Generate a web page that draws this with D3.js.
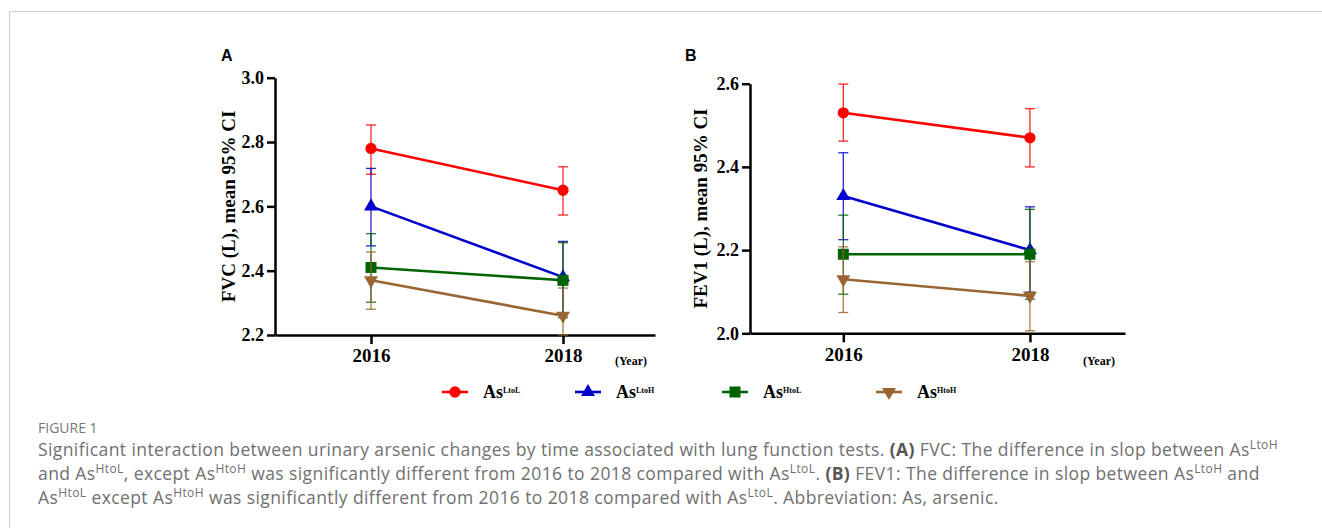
<!DOCTYPE html>
<html>
<head>
<meta charset="utf-8">
<script src="https://cdn.jsdelivr.net/npm/d3@7"></script>
<style>
  body { margin: 0; background: #fff; }
  svg { display: block; }
  .tick text { font-family: "Liberation Serif", serif; font-weight: bold; font-size: 18px; fill: #000; }
  .axis path, .axis line { stroke: #000; stroke-width: 2.5px; }
</style>
</head>
<body>
<svg id="fig" width="1322" height="528"></svg>
<script>
// data
const years = [2016, 2018];
const groups = ["LtoL", "LtoH", "HtoL", "HtoH"];
const colors = ["#ff0000", "#0000cc", "#006400", "#996633"];
const shapes = ["circle", "up", "square", "down"];

const fvcTicks = [2.2, 2.4, 2.6, 2.8, 3.0];
const fvcMean = [[2.78, 2.65], [2.60, 2.38], [2.41, 2.37], [2.37, 2.26]];
const fvcLow  = [[2.70, 2.573], [2.477, 2.267], [2.302, 2.254], [2.28, 2.20]];
const fvcHigh = [[2.853, 2.723], [2.718, 2.491], [2.515, 2.487], [2.458, 2.346]];

const fev1Ticks = [2.0, 2.2, 2.4, 2.6];
const fev1Mean = [[2.53, 2.47], [2.33, 2.20], [2.19, 2.19], [2.13, 2.09]];
const fev1Low  = [[2.462, 2.40], [2.225, 2.099], [2.094, 2.082], [2.05, 2.006]];
const fev1High = [[2.599, 2.54], [2.434, 2.304], [2.284, 2.298], [2.208, 2.172]];

const svg = d3.select("#fig");

// frame lines
svg.append("line").attr("x1", 9.5).attr("x2", 1322).attr("y1", 11.5).attr("y2", 11.5)
  .attr("stroke", "#cccccc").attr("stroke-width", 1);
svg.append("line").attr("x1", 9.5).attr("x2", 9.5).attr("y1", 11.5).attr("y2", 528)
  .attr("stroke", "#cccccc").attr("stroke-width", 1);

function symbolPath(shape) {
  if (shape === "circle") return d3.symbol(d3.symbolCircle, 100)();
  if (shape === "square") return d3.symbol(d3.symbolSquare, 121)();
  return d3.symbol(d3.symbolTriangle, 85)();
}

function panel(cfg) {
  const x = d3.scaleLinear().domain(cfg.xDomain).range([cfg.left, cfg.right]);
  const y = d3.scaleLinear().domain(cfg.yDomain).range([cfg.bottom, cfg.top]);
  const g = svg.append("g");

  // panel letter
  g.append("text")
    .attr("x", cfg.letterX).attr("y", 61)
    .attr("font-family", "Liberation Sans, Arial, sans-serif")
    .attr("font-weight", "bold").attr("font-size", "16px")
    .text(cfg.letter);

  // axes
  g.append("g")
    .attr("class", "axis")
    .attr("transform", `translate(${cfg.left},0)`)
    .call(d3.axisLeft(y).tickValues(cfg.ticks).tickFormat(d3.format(".1f")).tickSize(8).tickSizeOuter(0).tickPadding(3));

  g.append("g")
    .attr("class", "axis")
    .attr("transform", `translate(0,${cfg.bottom})`)
    .call(d3.axisBottom(x).tickValues(years).tickFormat(d3.format("d")).tickSize(9).tickSizeOuter(0).tickPadding(5))
    .selectAll(".tick text").style("font-size", "19px");

  // axis-label
  g.append("text")
    .attr("transform", `translate(${cfg.titleX},${(cfg.top + cfg.bottom) / 2}) rotate(-90)`)
    .attr("text-anchor", "middle")
    .attr("dy", "0.35em")
    .attr("font-family", "Liberation Serif, serif")
    .attr("font-weight", "bold").attr("font-size", "19px")
    .text(cfg.title);

  g.append("text")
    .attr("x", cfg.yearX).attr("y", 365)
    .attr("font-family", "Liberation Serif, serif")
    .attr("font-weight", "bold").attr("font-size", "12px")
    .text("(Year)");

  // series
  groups.forEach((grp, i) => {
    const s = g.append("g");
    const col = colors[i];
    years.forEach((yr, j) => {
      const cx = x(yr);
      s.append("line").attr("x1", cx).attr("x2", cx)
        .attr("y1", y(cfg.low[i][j])).attr("y2", y(cfg.high[i][j]))
        .attr("stroke", col).attr("stroke-width", 1.3).attr("stroke-opacity", 0.85);
      [cfg.low[i][j], cfg.high[i][j]].forEach(v => {
        s.append("line").attr("x1", cx - 5).attr("x2", cx + 5)
          .attr("y1", y(v)).attr("y2", y(v))
          .attr("stroke", col).attr("stroke-width", 1.3).attr("stroke-opacity", 0.85);
      });
    });
    s.append("path")
      .datum(years.map((yr, j) => [yr, cfg.mean[i][j]]))
      .attr("fill", "none").attr("stroke", col).attr("stroke-width", 2.6)
      .attr("d", d3.line().x(d => x(d[0])).y(d => y(d[1])));
    s.selectAll("path.mk")
      .data(years.map((yr, j) => [yr, cfg.mean[i][j]]))
      .join("path").attr("class", "mk")
      .attr("d", symbolPath(shapes[i]))
      .attr("fill", col)
      .attr("transform", d => `translate(${x(d[0])},${y(d[1])})` + (shapes[i] === "down" ? " rotate(180)" : ""));
  });
}

panel({
  letter: "A", letterX: 221, title: "FVC (L), mean 95% CI", titleX: 228, yearX: 615,
  left: 275, right: 655, top: 77.7, bottom: 335,
  xDomain: [2015, 2018 + (655 - 563) / 96], yDomain: [2.2, 3.0], ticks: fvcTicks,
  mean: fvcMean, low: fvcLow, high: fvcHigh
});

panel({
  letter: "B", letterX: 685, title: "FEV1 (L), mean 95% CI", titleX: 700, yearX: 1083,
  left: 750, right: 1125, top: 83.7, bottom: 333.3,
  xDomain: [2015, 2018 + (1125 - 1030) / 93.25], yDomain: [2.0, 2.6], ticks: fev1Ticks,
  mean: fev1Mean, low: fev1Low, high: fev1High
});

// legend
const legendX = [442, 575, 722, 876];
const legend = svg.append("g").attr("transform", "translate(0,392)");
groups.forEach((grp, i) => {
  const lg = legend.append("g").attr("transform", `translate(${legendX[i]},0)`);
  lg.append("line").attr("x1", 0).attr("x2", 26).attr("stroke", colors[i]).attr("stroke-width", 2.6);
  lg.append("path").attr("d", symbolPath(shapes[i])).attr("fill", colors[i])
    .attr("transform", "translate(13,0)" + (shapes[i] === "down" ? " rotate(180)" : ""));
  const t = lg.append("text").attr("x", 41).attr("y", 6)
    .attr("font-family", "Liberation Serif, serif").attr("font-weight", "bold").attr("font-size", "18px");
  t.append("tspan").text("As");
  t.append("tspan").attr("font-size", "8px").attr("dy", -5).text(grp);
});

// caption
const cap = svg.append("g").attr("font-family", "Open Sans, sans-serif").attr("fill", "#707070");
cap.append("text").attr("x", 38).attr("y", 433).attr("font-size", "14px").attr("fill", "#777").text("FIGURE 1");

const capLines = [
  [["t", "Significant interaction between urinary arsenic changes by time associated with lung function tests. "], ["b", "(A)"], ["t", " FVC: The difference in slop between As"], ["s", "LtoH"]],
  [["t", "and As"], ["s", "HtoL"], ["t", ", except As"], ["s", "HtoH"], ["t", " was significantly different from 2016 to 2018 compared with As"], ["s", "LtoL"], ["t", ". "], ["b", "(B)"], ["t", " FEV1: The difference in slop between As"], ["s", "LtoH"], ["t", " and"]],
  [["t", "As"], ["s", "HtoL"], ["t", " except As"], ["s", "HtoH"], ["t", " was significantly different from 2016 to 2018 compared with As"], ["s", "LtoL"], ["t", ". Abbreviation: As, arsenic."]]
];
const capBase = [456, 480, 504];
const capTexts = capLines.map((parts, li) => {
  const t = cap.append("text").attr("x", 38).attr("y", capBase[li]).attr("font-size", "17.5px");
  let raised = false;
  parts.forEach(([kind, str]) => {
    const sp = t.append("tspan").text(str);
    if (kind === "s") {
      sp.attr("font-size", "12px").attr("dy", raised ? 0 : -7);
      raised = true;
    } else {
      if (raised) { sp.attr("dy", 7); raised = false; }
      if (kind === "b") sp.attr("font-weight", "bold").attr("fill", "#555");
    }
  });
  return t;
});
// spread first line to the width seen in the figure, same spacing on all lines
const first = capTexts[0].node();
const nChars = first.textContent.length;
const spacing = (1240 - first.getComputedTextLength()) / nChars;
capTexts.forEach(t => t.attr("letter-spacing", spacing.toFixed(3)));
</script>
</body>
</html>
